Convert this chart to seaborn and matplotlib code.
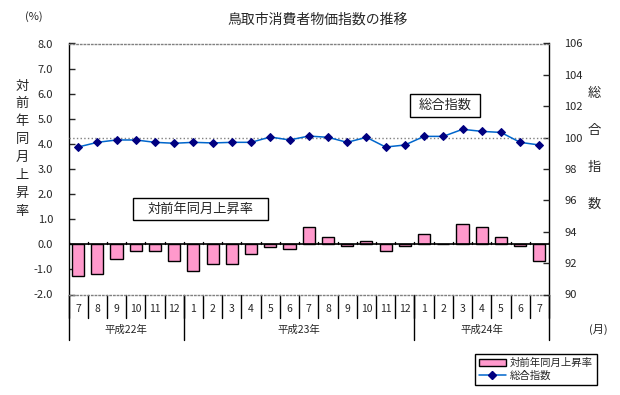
import numpy as np
import pandas as pd
import matplotlib
matplotlib.use("Agg")
import matplotlib.pyplot as plt
from matplotlib.patches import Patch, Rectangle
from matplotlib.lines import Line2D
import seaborn as sns

# ─── Data ─────────────────────────────────────────────────────────────────────

MONTHS = [7, 8, 9, 10, 11, 12,
          1, 2, 3, 4, 5, 6, 7, 8, 9, 10, 11, 12,
          1, 2, 3, 4, 5, 6, 7]
YEARS = ["平成22年", "平成23年", "平成24年"]
YEAR_SPANS = [6, 12, 7]

RATE = [-1.25, -1.20, -0.60, -0.27, -0.27, -0.66,
        -1.07, -0.80, -0.80, -0.40, -0.09, -0.20, 0.70, 0.30, -0.08, 0.12, -0.28, -0.08,
        0.40, 0.00, 0.80, 0.70, 0.30, -0.08, -0.68]
INDEX = [99.4, 99.7, 99.85, 99.85, 99.7, 99.64,
         99.7, 99.66, 99.7, 99.7, 100.04, 99.85, 100.1, 100.02, 99.7, 100.02, 99.4, 99.53,
         100.08, 100.08, 100.53, 100.4, 100.33, 99.7, 99.53]

RATE_LABEL = "対前年同月上昇率"
INDEX_LABEL = "総合指数"
TITLE = "鳥取市消費者物価指数の推移"

BAR_COLOR = "#FF99CC"
LINE_COLOR = "#0066CC"
MARK_COLOR = "#000080"

W, H = 620, 395

# ─── Style ────────────────────────────────────────────────────────────────────

sns.set_style("white")
plt.rcParams["font.family"] = ["Noto Sans CJK JP", "DejaVu Sans"]
plt.rcParams["axes.unicode_minus"] = False

df = pd.DataFrame({"pos": np.arange(len(MONTHS)), "rate": RATE, "index": INDEX})

fig = plt.figure(figsize=(W / 100, H / 100), dpi=100)
x0, x1, y0, y1 = 68.5, 549, 43.5, 294.5
ax = fig.add_axes([x0 / W, 1 - y1 / H, (x1 - x0) / W, (y1 - y0) / H])

sns.barplot(data=df, x="pos", y="rate", ax=ax, color=BAR_COLOR, saturation=1,
            edgecolor="black", linewidth=1, width=0.63, zorder=3)
n = len(MONTHS)
ax.set_xlim(-0.5, n - 0.5)
ax.set_ylim(-2, 8)
ax.set_yticks(np.arange(-2, 8.1, 1))
ax.set_yticklabels([f"{v:.1f}" for v in np.arange(-2, 8.1, 1)])
ax.set_xlabel("")
ax.set_ylabel("")
ax.tick_params(axis="x", bottom=False, labelbottom=False)
ax.tick_params(axis="y", direction="in", length=4, width=1, pad=11,
               labelsize=8, left=True)

for side in ["left", "right"]:
    ax.spines[side].set_color("black")
    ax.spines[side].set_linewidth(1)
for side in ["top", "bottom"]:
    ax.spines[side].set_color("#808080")
    ax.spines[side].set_linestyle(":")
    ax.spines[side].set_linewidth(1)

# zero line with small category ticks
ax.axhline(0, color="black", lw=1.2, zorder=4)
for b in np.arange(-0.5, n, 1.0):
    ax.plot([b, b], [0, 0.09], color="black", lw=1, zorder=4)

# right axis: index
ax2 = ax.twinx()
ax2.axhline(100, color="#808080", ls=":", lw=1, zorder=1)
sns.lineplot(data=df, x="pos", y="index", ax=ax2, color=LINE_COLOR, lw=1.1,
             marker="D", markersize=4.3, markerfacecolor=MARK_COLOR,
             markeredgecolor=MARK_COLOR, zorder=5)
ax2.set_ylim(90, 106)
ax2.set_yticks(np.arange(90, 107, 2))
ax2.set_xlabel("")
ax2.set_ylabel("")
ax2.tick_params(axis="y", direction="in", length=4, width=1, pad=11,
                labelsize=8, right=True)
for s in ax2.spines.values():
    s.set_visible(False)
ax2.set_xlim(-0.5, n - 0.5)

# ─── Category table below the axes ───────────────────────────────────────────

tr = ax.get_xaxis_transform()
row1 = (y1 - 318) / (y1 - y0)
row2 = (y1 - 340) / (y1 - y0)
for i in range(n + 1):
    ax.plot([i - 0.5, i - 0.5], [0, row1], color="black", lw=1,
            transform=tr, clip_on=False)
for i, m in enumerate(MONTHS):
    ax.text(i, (y1 - 309) / (y1 - y0), str(m), transform=tr,
            ha="center", va="center", fontsize=7.5)
start = 0
for name, span in zip(YEARS, YEAR_SPANS):
    ax.plot([start - 0.5, start - 0.5], [0, row2], color="black", lw=1,
            transform=tr, clip_on=False)
    ax.text(start + span / 2 - 0.5, (y1 - 330) / (y1 - y0), name,
            transform=tr, ha="center", va="center", fontsize=7.5)
    start += span
ax.plot([n - 0.5, n - 0.5], [0, row2], color="black", lw=1,
        transform=tr, clip_on=False)

# ─── Texts ───────────────────────────────────────────────────────────────────

def ftext(px, py, s, **kw):
    fig.text(px / W, 1 - py / H, s, ha="center", va="center", **kw)

def fbox(cx, cy, w, h, s, size):
    fig.patches.append(Rectangle(((cx - w / 2) / W, 1 - (cy + h / 2) / H), w / W, h / H,
                                 transform=fig.transFigure, facecolor="white",
                                 edgecolor="black", lw=1, zorder=6))
    ftext(cx, cy, s, fontsize=size, zorder=7)

ftext(318, 20, TITLE, fontsize=10)
ftext(34, 17, "(%)", fontsize=8)
ftext(598, 329, "(月)", fontsize=8)

for k, ch in enumerate(RATE_LABEL):
    ftext(22, 86 + k * 17.9, ch, fontsize=9.5)
for k, ch in enumerate(INDEX_LABEL):
    ftext(594, 94 + k * 36.7, ch, fontsize=9.5)

fbox(445, 105.5, 70, 23, INDEX_LABEL, 9.5)
fbox(200.5, 209, 135, 22, RATE_LABEL, 9.5)

handles = [Patch(facecolor=BAR_COLOR, edgecolor="black", lw=1),
           Line2D([], [], color=LINE_COLOR, lw=1.1, marker="D", markersize=4.3,
                  markerfacecolor=MARK_COLOR, markeredgecolor=MARK_COLOR)]
leg = fig.legend(handles, [RATE_LABEL, INDEX_LABEL], loc="center",
                 bbox_to_anchor=(536 / W, 1 - 369.5 / H), fontsize=7.5,
                 frameon=True, fancybox=False, edgecolor="black", framealpha=1,
                 handlelength=2.6, handletextpad=0.4, borderpad=0.35,
                 labelspacing=0.25, borderaxespad=0)
leg.get_frame().set_linewidth(1)

fig.savefig("out.png", dpi=100)
